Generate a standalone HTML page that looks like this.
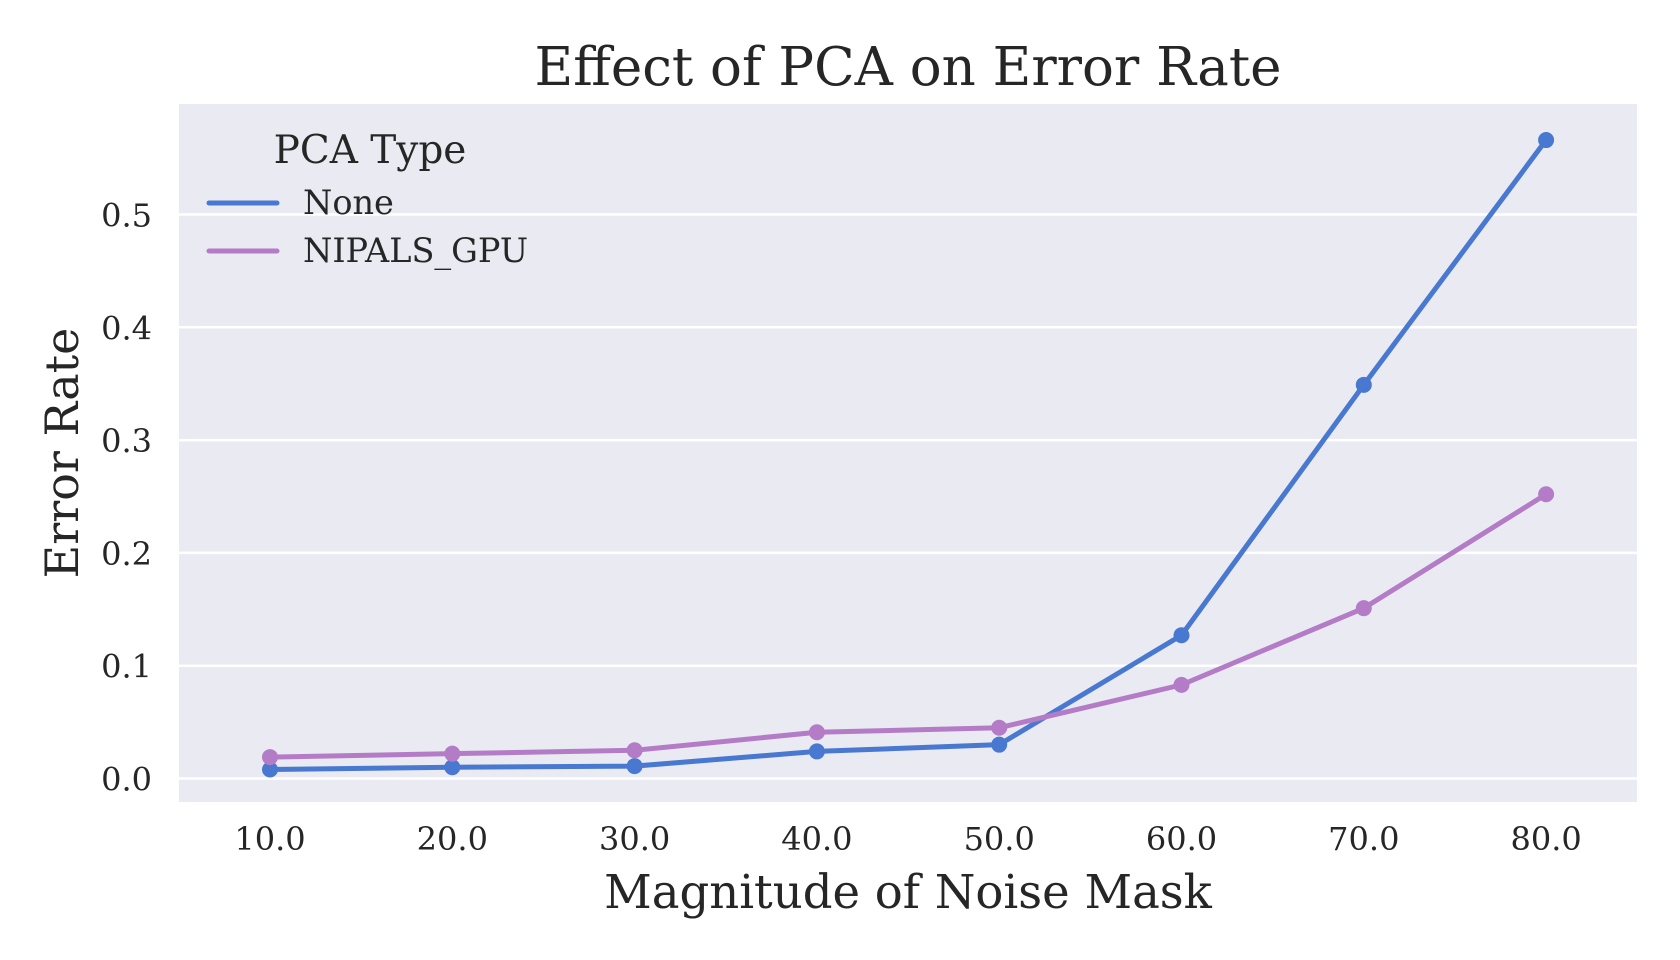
<!DOCTYPE html>
<html><head><meta charset="utf-8"><style>
html,body{margin:0;padding:0;background:#fff;}
svg{display:block;font-family:"DejaVu Serif","Liberation Serif",serif;}
</style></head><body>
<svg id="chart" width="1680" height="960" viewBox="0 0 1680 960">
<rect x="0" y="0" width="1680" height="960" fill="#fff"/>
<rect x="179" y="104" width="1458" height="698" fill="#EAEAF2"/>
<g id="grid"></g>
<g id="yticks"></g>
<g id="xticks"></g>
<g id="series"></g>
<text x="908" y="85" font-size="53" fill="#262626" text-anchor="middle">Effect of PCA on Error Rate</text>
<text x="908" y="908" font-size="46.5" fill="#262626" text-anchor="middle">Magnitude of Noise Mask</text>
<text x="0" y="0" font-size="46" fill="#262626" text-anchor="middle" transform="translate(78,453) rotate(-90)">Error Rate</text>
<g>
<text x="370" y="163" font-size="39" fill="#262626" text-anchor="middle">PCA Type</text>
<g>
<line x1="209" y1="203" x2="277" y2="203" stroke="#4878CF" stroke-width="5" stroke-linecap="round"/>
<text x="303" y="214" font-size="33.5" fill="#262626">None</text>
</g>
<g>
<line x1="209" y1="251" x2="277" y2="251" stroke="#B47CC7" stroke-width="5" stroke-linecap="round"/>
<text x="303" y="262" font-size="33.5" fill="#262626">NIPALS_GPU</text>
</g>
</g>
</svg>
<script>
const categories = [10, 20, 30, 40, 50, 60, 70, 80];
const xTickLabels = ["10.0","20.0","30.0","40.0","50.0","60.0","70.0","80.0"];
const noneValues = [0.008, 0.010, 0.011, 0.024, 0.030, 0.127, 0.349, 0.566];
const nipalsValues = [0.019, 0.022, 0.025, 0.041, 0.045, 0.083, 0.151, 0.252];
const yTicks = [0, 0.1, 0.2, 0.3, 0.4, 0.5];
const yTickLabels = ["0.0","0.1","0.2","0.3","0.4","0.5"];

const NS = "http://www.w3.org/2000/svg";
function xScale(v){ return 270 + (v - 10) * 18.23; }
function yScale(v){ return 778.5 - v * 1128; }
function mk(tag, attrs, parent){
  const e = document.createElementNS(NS, tag);
  for (const k in attrs) e.setAttribute(k, attrs[k]);
  parent.appendChild(e);
  return e;
}
const grid = document.getElementById('grid');
const yt = document.getElementById('yticks');
const xt = document.getElementById('xticks');
const ser = document.getElementById('series');

yTicks.forEach((t, i) => {
  const y = yScale(t);
  const gl = mk('line', {x1:179, x2:1637, y1:y, y2:y, stroke:'#fff', 'stroke-width':2.5}, grid);
  
  
  const tx = mk('text', {x:152, y:y+12, 'font-size':32, fill:'#262626', 'text-anchor':'end'}, yt);
  tx.textContent = yTickLabels[i];
  
  
});
categories.forEach((c, i) => {
  const tx = mk('text', {x:xScale(c), y:850, 'font-size':32, fill:'#262626', 'text-anchor':'middle'}, xt);
  tx.textContent = xTickLabels[i];
  
  
});
function drawSeries(vals, color, name){
  const g = mk('g', {}, ser);
  
  
  const pts = vals.map((v, i) => xScale(categories[i]) + ',' + yScale(v)).join(' ');
  const pl = mk('polyline', {points:pts, fill:'none', stroke:color, 'stroke-width':5, 'stroke-linejoin':'round', 'stroke-linecap':'round'}, g);
  
  
  vals.forEach((v, i) => {
    const c = mk('circle', {cx:xScale(categories[i]), cy:yScale(v), r:8, fill:color}, g);
    
    
  });
}
drawSeries(noneValues, '#4878CF', 'series-none');
drawSeries(nipalsValues, '#B47CC7', 'series-nipals-gpu');
</script>
</body></html>
